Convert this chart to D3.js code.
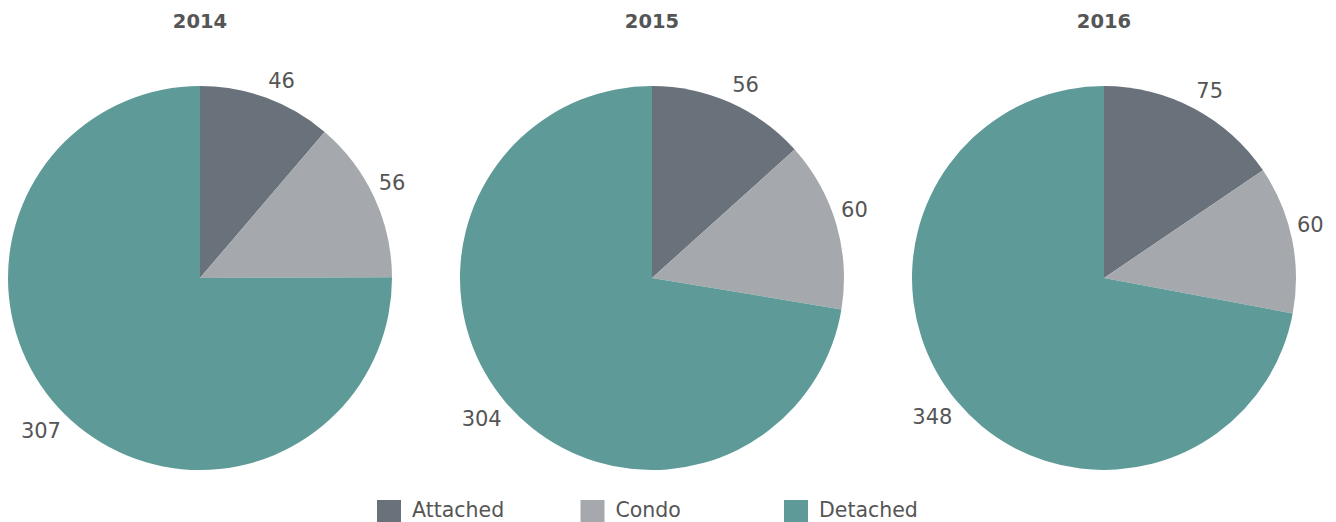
<!DOCTYPE html>
<html>
<head>
<meta charset="utf-8">
<title>Pies by year</title>
<script src="https://d3js.org/d3.v7.min.js"></script>
<style>
  body { margin: 0; background: #fff; }
  text { font-family: "DejaVu Sans", sans-serif; fill: #555; }
</style>
</head>
<body>
<script>
var years = ["2014", "2015", "2016"];
var types = ["Attached", "Condo", "Detached"];
var attached = [46, 56, 75];
var condo = [56, 60, 60];
var detached = [307, 304, 348];

var width = 1336, height = 522;
var radius = 192, labelRadius = 197;

var color = d3.scaleOrdinal()
    .domain(types)
    .range(["#69717a", "#a5a9ad", "#5e9a97"]);

var xPos = d3.scalePoint()
    .domain(years)
    .range([200, 1104]);

var svg = d3.select("body").append("svg")
    .attr("width", width)
    .attr("height", height);

var pie = d3.pie().sort(null).value(function(d) { return d.value; });
var arc = d3.arc().innerRadius(0).outerRadius(radius);

function midAngle(d) { return (d.startAngle + d.endAngle) / 2; }

years.forEach(function(year, i) {
  var rows = [
    {key: "Attached", value: attached[i]},
    {key: "Condo", value: condo[i]},
    {key: "Detached", value: detached[i]}
  ];

  svg.append("text")
      .attr("x", xPos(year))
      .attr("y", 28)
      .attr("text-anchor", "middle")
      .attr("font-size", 19.5)
      .attr("font-weight", "bold")
      .text(year);

  var g = svg.append("g")
      .attr("transform", "translate(" + xPos(year) + ",278)");

  var slices = pie(rows);

  g.selectAll("path")
    .data(slices)
    .enter().append("path")
      .attr("d", arc)
      .attr("fill", function(d) { return color(d.data.key); });

  // labels sit just outside the rim, anchored away from the pie
  g.selectAll("text")
    .data(slices)
    .enter().append("text")
      .attr("x", function(d) { return labelRadius * Math.sin(midAngle(d)); })
      .attr("y", function(d) {
        var c = Math.cos(midAngle(d));
        return -labelRadius * c + (c > 0 ? -13 : 13);
      })
      .attr("text-anchor", function(d) { return Math.sin(midAngle(d)) >= 0 ? "start" : "end"; })
      .attr("dy", "0.35em")
      .attr("font-size", 21)
      .text(function(d) { return d.data.value; });
});

var legend = svg.append("g")
  .selectAll("g")
  .data(types)
  .enter().append("g")
    .attr("transform", function(d, i) { return "translate(" + (377 + i * 203.5) + ",500)"; });

legend.append("rect")
    .attr("width", 24)
    .attr("height", 24)
    .attr("fill", color);

legend.append("text")
    .attr("x", 35)
    .attr("y", 17)
    .attr("font-size", 20.5)
    .text(function(d) { return d; });
</script>
</body>
</html>
